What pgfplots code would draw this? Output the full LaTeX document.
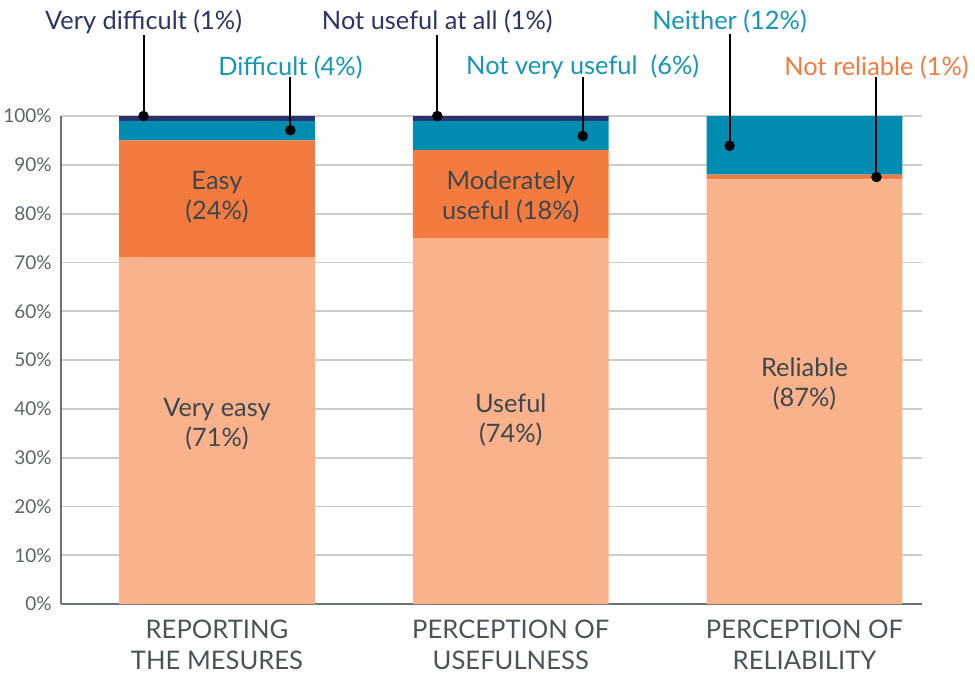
\documentclass[border=0pt]{standalone}
\usepackage{fontspec}
\setmainfont{Lato}
\usepackage{pgfplots}
\pgfplotsset{compat=1.18}
\definecolor{peach}{HTML}{FAB28C}
\definecolor{orng}{HTML}{F47B40}
\definecolor{teal}{HTML}{008CB0}
\definecolor{navy}{HTML}{2A3370}
\definecolor{navytxt}{HTML}{2B3467}
\definecolor{tealtxt}{HTML}{1497B5}
\definecolor{orngtxt}{HTML}{F47B40}
\definecolor{bartxt}{HTML}{3E484C}
\definecolor{cattxt}{HTML}{4A5457}
\definecolor{ticktxt}{HTML}{5A6466}
\definecolor{gridgray}{HTML}{CCCCCC}
\definecolor{axisgray}{HTML}{6B7377}
\newcommand{\lbl}{\fontsize{12.7}{15}\selectfont}
\begin{document}
\begin{tikzpicture}[x=1pt,y=1pt]
\path[use as bounding box] (-30.5,-36.5) rectangle (457,302);
\pgfplotsset{common/.style={
  at={(0,0)}, anchor=south west, scale only axis,
  width=430.5pt, height=244pt,
  xmin=-0.531, xmax=2.40, ymin=0, ymax=100,
}}
\begin{axis}[common,
  ybar stacked, bar width=0.667,
  axis lines=left, axis line style={-, draw=axisgray, line width=0.8pt},
  ymajorgrids, grid style={gridgray, line width=0.9pt},
  ytick={0,10,...,100},
  yticklabel={\pgfmathprintnumber{\tick}\%},
  /pgf/number format/assume math mode=true,
  yticklabel style={font=\fontsize{9.5}{10}\selectfont, text=ticktxt, xshift=1pt},
  xtick={0,1,2},
  xticklabels={{REPORTING\\THE MESURES},{PERCEPTION OF\\USEFULNESS},{PERCEPTION OF\\RELIABILITY}},
  xticklabel style={font=\fontsize{12.8}{15.5}\selectfont, text=cattxt, align=center, yshift=-2.5pt},
  tick style={draw=none},
  clip=false,
]
\addplot[fill=peach, draw=none] coordinates {(0,71) (1,75) (2,87)};
\addplot[fill=orng, draw=none] coordinates {(0,24) (1,18) (2,1)};
\addplot[fill=teal, draw=none] coordinates {(0,4) (1,6) (2,12)};
\addplot[fill=navy, draw=none] coordinates {(0,1) (1,1) (2,0)};
\end{axis}
\begin{axis}[common, hide axis, clip=false]
\addplot[black, line width=1pt] coordinates {(-0.25,116.6) (-0.25,100)};
\addplot[black, line width=1pt] coordinates {(0.25,108) (0.25,97.1)};
\addplot[black, line width=1pt] coordinates {(0.75,116.6) (0.75,100)};
\addplot[black, line width=1pt] coordinates {(1.245,108) (1.245,95.9)};
\addplot[black, line width=1pt] coordinates {(1.745,116.8) (1.745,93.9)};
\addplot[black, line width=1pt] coordinates {(2.245,108) (2.245,87.5)};
\addplot[only marks, mark=*, mark size=2.4pt, black] coordinates {(-0.25,100) (0.25,97.1) (0.75,100) (1.245,95.9) (1.745,93.9) (2.245,87.5)};
\node[text=navytxt, font=\lbl] at (axis cs:-0.25,119.3) {Very difficult (1\%)};
\node[text=tealtxt, font=\lbl] at (axis cs:0.25,110.0) {Difficult (4\%)};
\node[text=navytxt, font=\lbl] at (axis cs:0.75,119.3) {Not useful at all (1\%)};
\node[text=tealtxt, font=\lbl] at (axis cs:1.245,110.0) {Not very useful\ \ (6\%)};
\node[text=tealtxt, font=\lbl] at (axis cs:1.745,119.3) {Neither (12\%)};
\node[text=orngtxt, font=\lbl] at (axis cs:2.245,110.0) {Not reliable (1\%)};
\node[text=bartxt, font=\lbl, align=center] at (axis cs:0,83.4) {Easy\\(24\%)};
\node[text=bartxt, font=\lbl, align=center] at (axis cs:0,36.9) {Very easy\\(71\%)};
\node[text=bartxt, font=\lbl, align=center] at (axis cs:1,83.4) {Moderately\\useful (18\%)};
\node[text=bartxt, font=\lbl, align=center] at (axis cs:1,37.7) {Useful\\(74\%)};
\node[text=bartxt, font=\lbl, align=center] at (axis cs:2,45) {Reliable\\(87\%)};
\end{axis}
\end{tikzpicture}
\end{document}
